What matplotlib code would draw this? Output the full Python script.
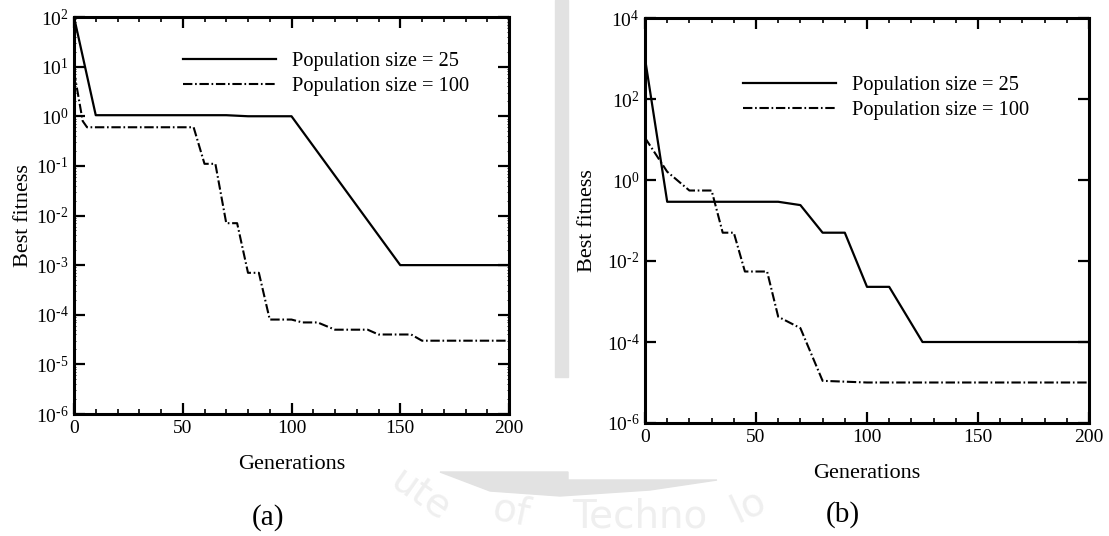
import math
import matplotlib
matplotlib.use("Agg")
import matplotlib.pyplot as plt
import matplotlib.ticker as mticker
from matplotlib.patches import Polygon, Rectangle

# valores
a_gen_25 = [0, 10, 70, 80, 100, 150, 200]
a_fit_25 = [100, 1.05, 1.05, 1.0, 1.0, 1e-3, 1e-3]
a_gen_100 = [0, 4, 6, 55, 60, 65, 70, 75, 80, 85, 90, 100, 105, 112, 120, 135, 140, 155, 160, 200]
a_fit_100 = [8, 0.8, 0.6, 0.6, 0.11, 0.11, 0.007, 0.007, 7e-4, 7e-4, 8e-5, 8e-5, 7e-5, 7e-5,
             5e-5, 5e-5, 4e-5, 4e-5, 3e-5, 3e-5]

b_gen_25 = [0, 10, 60, 70, 80, 90, 100, 110, 125, 200]
b_fit_25 = [1000, 0.29, 0.29, 0.24, 0.05, 0.05, 2.3e-3, 2.3e-3, 1e-4, 1e-4]
b_gen_100 = [0, 10, 20, 30, 35, 40, 45, 55, 60, 70, 80, 100, 200]
b_fit_100 = [11, 1.6, 0.55, 0.55, 0.05, 0.05, 5.5e-3, 5.5e-3, 4.2e-4, 2.2e-4, 1.1e-5, 1e-5, 1e-5]

labels = ["Population size = 25", "Population size = 100"]
x_ticks = [0, 50, 100, 150, 200]

plt.rcParams['font.family'] = ['Liberation Serif', 'DejaVu Serif']
plt.rcParams['mathtext.fontset'] = 'custom'
plt.rcParams['mathtext.rm'] = 'Liberation Serif'
plt.rcParams['mathtext.it'] = 'Liberation Serif:italic'
plt.rcParams['font.size'] = 14

fig = plt.figure(figsize=(11.09, 5.36), dpi=100)
W, H = 1109, 536

# marca d'agua (cinza claro)
fig.patches.append(Rectangle((555 / W, 1 - 377 / H), 13 / W, 377 / H, transform=fig.transFigure,
                             color='#e2e2e2', zorder=0))
band = [(440, 472), (568, 472), (568, 480), (717, 480), (650, 490), (560, 496), (490, 491)]
fig.patches.append(Polygon([(x / W, 1 - y / H) for x, y in band], closed=True,
                           transform=fig.transFigure, color='#e2e2e2', zorder=0))
for txt, x, y, rot in [("ute", 420, 496, -35), ("of", 512, 512, -12), ("Techno", 640, 516, 0),
                       ("lo", 748, 505, 25)]:
    fig.text(x / W, 1 - y / H, txt, fontsize=28, family='DejaVu Sans', color='#efefef',
             rotation=rot, ha='center', va='center', zorder=0)

dashdot = (0, (4.5, 1.3, 0.8, 1.3))


def log_fmt(v, pos):
    k = round(math.log10(v))
    return r"$10^{\text{%d}}$" % k


def painel(rect, g25, f25, g100, f100, ylim, yticks, minor_y, leg_pos, ylab_x, tag, tag_xy):
    ax = fig.add_axes(rect)
    ax.plot(g25, f25, color='black', lw=1.6, label=labels[0])
    ax.plot(g100, f100, color='black', lw=1.5, linestyle=dashdot, label=labels[1])
    ax.set_yscale('log')
    ax.set_xlim(0, 200)
    ax.set_ylim(*ylim)
    ax.set_xticks(x_ticks)
    ax.xaxis.set_minor_locator(mticker.MultipleLocator(10))
    ax.set_yticks(yticks)
    ax.yaxis.set_major_formatter(mticker.FuncFormatter(log_fmt))
    if minor_y:
        ax.yaxis.set_minor_locator(mticker.LogLocator(base=10, subs=range(2, 10), numticks=20))
    else:
        ax.yaxis.set_minor_locator(mticker.NullLocator())
    ax.yaxis.set_minor_formatter(mticker.NullFormatter())
    ax.tick_params(which='both', direction='in', top=True, right=True, labelsize=14)
    ax.tick_params(which='major', length=8, width=1.6, pad=4)
    ax.tick_params(axis='x', which='minor', length=3.8, width=1.2)
    ax.tick_params(axis='y', which='minor', length=1.5, width=0.6)
    for s in ax.spines.values():
        s.set_linewidth(2.2)
    ax.set_xlabel("Generations", fontsize=16, labelpad=13)
    ax.set_ylabel("Best fitness", fontsize=16)
    ax.yaxis.set_label_coords(ylab_x, 0.5)
    ax.legend(loc='upper left', bbox_to_anchor=leg_pos, frameon=False, fontsize=14.7,
              handlelength=4.56, handletextpad=0.78, labelspacing=0.28, borderpad=0,
              borderaxespad=0)
    fig.text(tag_xy[0] / W, 1 - tag_xy[1] / H, tag, fontsize=21, ha='center', va='center')
    return ax


painel([74 / W, 1 - 414 / H, 435 / W, 397 / H], a_gen_25, a_fit_25, a_gen_100, a_fit_100,
       (1e-6, 1e2), [10.0 ** k for k in range(-6, 3)], True, (0.25, 0.912), -0.095,
       "(a)", (268, 518))
painel([645 / W, 1 - 423 / H, 444 / W, 405 / H], b_gen_25, b_fit_25, b_gen_100, b_fit_100,
       (1e-6, 1e4), [10.0 ** k for k in range(-6, 5, 2)], False, (0.22, 0.858), -0.108,
       "(b)", (843, 515))

fig.savefig("out.png", dpi=100)
